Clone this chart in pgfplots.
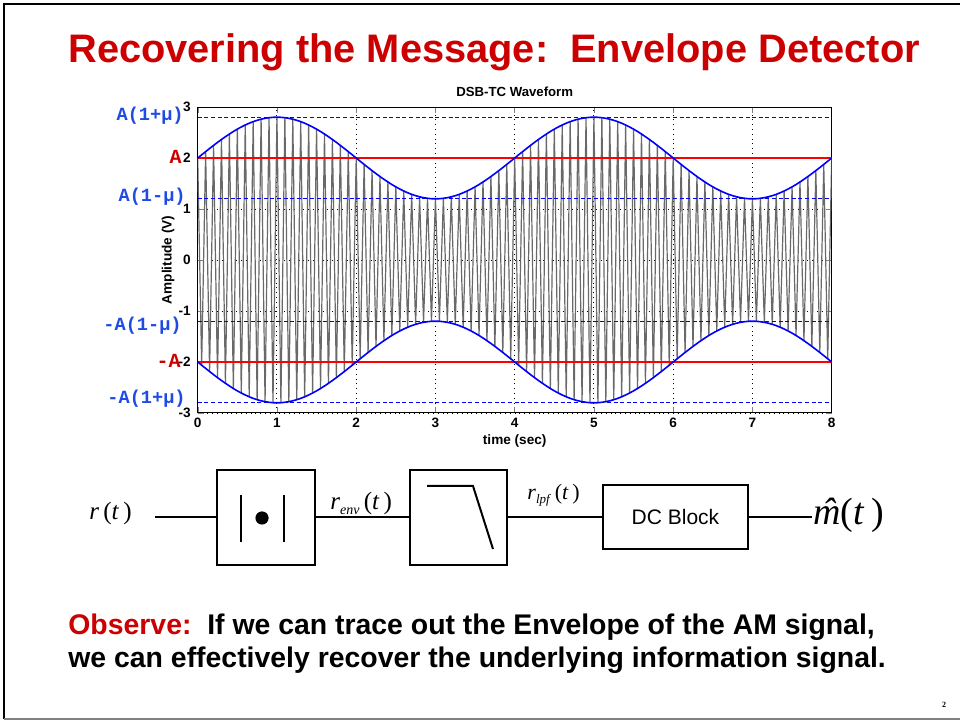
\documentclass[border=0pt]{standalone}
\usepackage{fontspec}
\setmainfont{Liberation Sans}
\newfontfamily\serif{Liberation Serif}
\newfontfamily\mono{Liberation Mono}
\usepackage{pgfplots}
\pgfplotsset{compat=1.18}
\usepackage{pgfplotstable}
\definecolor{titlered}{RGB}{204,0,0}
\definecolor{lblblue}{RGB}{30,75,230}
\definecolor{carrier}{RGB}{105,105,105}

\pgfplotstableread{
t v e
0.00 2.000 2.000
0.05 -2.063 2.063
0.10 2.125 2.125
0.15 -2.187 2.187
0.20 2.247 2.247
0.25 -2.306 2.306
0.30 2.363 2.363
0.35 -2.418 2.418
0.40 2.470 2.470
0.45 -2.520 2.520
0.50 2.566 2.566
0.55 -2.608 2.608
0.60 2.647 2.647
0.65 -2.682 2.682
0.70 2.713 2.713
0.75 -2.739 2.739
0.80 2.761 2.761
0.85 -2.778 2.778
0.90 2.790 2.790
0.95 -2.798 2.798
1.00 2.800 2.800
1.05 -2.798 2.798
1.10 2.790 2.790
1.15 -2.778 2.778
1.20 2.761 2.761
1.25 -2.739 2.739
1.30 2.713 2.713
1.35 -2.682 2.682
1.40 2.647 2.647
1.45 -2.608 2.608
1.50 2.566 2.566
1.55 -2.520 2.520
1.60 2.470 2.470
1.65 -2.418 2.418
1.70 2.363 2.363
1.75 -2.306 2.306
1.80 2.247 2.247
1.85 -2.187 2.187
1.90 2.125 2.125
1.95 -2.063 2.063
2.00 2.000 2.000
2.05 -1.937 1.937
2.10 1.875 1.875
2.15 -1.813 1.813
2.20 1.753 1.753
2.25 -1.694 1.694
2.30 1.637 1.637
2.35 -1.582 1.582
2.40 1.530 1.530
2.45 -1.480 1.480
2.50 1.434 1.434
2.55 -1.392 1.392
2.60 1.353 1.353
2.65 -1.318 1.318
2.70 1.287 1.287
2.75 -1.261 1.261
2.80 1.239 1.239
2.85 -1.222 1.222
2.90 1.210 1.210
2.95 -1.202 1.202
3.00 1.200 1.200
3.05 -1.202 1.202
3.10 1.210 1.210
3.15 -1.222 1.222
3.20 1.239 1.239
3.25 -1.261 1.261
3.30 1.287 1.287
3.35 -1.318 1.318
3.40 1.353 1.353
3.45 -1.392 1.392
3.50 1.434 1.434
3.55 -1.480 1.480
3.60 1.530 1.530
3.65 -1.582 1.582
3.70 1.637 1.637
3.75 -1.694 1.694
3.80 1.753 1.753
3.85 -1.813 1.813
3.90 1.875 1.875
3.95 -1.937 1.937
4.00 2.000 2.000
4.05 -2.063 2.063
4.10 2.125 2.125
4.15 -2.187 2.187
4.20 2.247 2.247
4.25 -2.306 2.306
4.30 2.363 2.363
4.35 -2.418 2.418
4.40 2.470 2.470
4.45 -2.520 2.520
4.50 2.566 2.566
4.55 -2.608 2.608
4.60 2.647 2.647
4.65 -2.682 2.682
4.70 2.713 2.713
4.75 -2.739 2.739
4.80 2.761 2.761
4.85 -2.778 2.778
4.90 2.790 2.790
4.95 -2.798 2.798
5.00 2.800 2.800
5.05 -2.798 2.798
5.10 2.790 2.790
5.15 -2.778 2.778
5.20 2.761 2.761
5.25 -2.739 2.739
5.30 2.713 2.713
5.35 -2.682 2.682
5.40 2.647 2.647
5.45 -2.608 2.608
5.50 2.566 2.566
5.55 -2.520 2.520
5.60 2.470 2.470
5.65 -2.418 2.418
5.70 2.363 2.363
5.75 -2.306 2.306
5.80 2.247 2.247
5.85 -2.187 2.187
5.90 2.125 2.125
5.95 -2.063 2.063
6.00 2.000 2.000
6.05 -1.937 1.937
6.10 1.875 1.875
6.15 -1.813 1.813
6.20 1.753 1.753
6.25 -1.694 1.694
6.30 1.637 1.637
6.35 -1.582 1.582
6.40 1.530 1.530
6.45 -1.480 1.480
6.50 1.434 1.434
6.55 -1.392 1.392
6.60 1.353 1.353
6.65 -1.318 1.318
6.70 1.287 1.287
6.75 -1.261 1.261
6.80 1.239 1.239
6.85 -1.222 1.222
6.90 1.210 1.210
6.95 -1.202 1.202
7.00 1.200 1.200
7.05 -1.202 1.202
7.10 1.210 1.210
7.15 -1.222 1.222
7.20 1.239 1.239
7.25 -1.261 1.261
7.30 1.287 1.287
7.35 -1.318 1.318
7.40 1.353 1.353
7.45 -1.392 1.392
7.50 1.434 1.434
7.55 -1.480 1.480
7.60 1.530 1.530
7.65 -1.582 1.582
7.70 1.637 1.637
7.75 -1.694 1.694
7.80 1.753 1.753
7.85 -1.813 1.813
7.90 1.875 1.875
7.95 -1.937 1.937
8.00 2.000 2.000
}\wave

\begin{document}
\begin{tikzpicture}
\useasboundingbox (0,0) rectangle (480pt,-360.5pt);
\fill[white] (0,0) rectangle (480pt,-360.5pt);
\begin{axis}[
  at={(98.85pt,-206.5pt)}, anchor=south west,
  scale only axis, width=317pt, height=153pt,
  xmin=0, xmax=8, ymin=-3, ymax=3,
  xtick={0,1,2,3,4,5,6,7,8}, ytick={-3,-2,-1,0,1,2,3},
  grid=major, major grid style={black, dotted, line width=0.45pt},
  tick align=inside, major tick length=3pt,
  axis line style={black, line width=0.5pt},
  /pgf/number format/assume math mode=true,
  ticklabel style={font=\bfseries\fontsize{6.8}{7}\selectfont},
  xticklabel style={yshift=1pt},
  every axis title shift=0pt,
  title={DSB-TC Waveform},
  title style={at={(axis description cs:0.5,1)}, anchor=base, yshift=5.2pt, inner sep=0pt, font=\bfseries\fontsize{6.6}{7}\selectfont},
  xlabel={time (sec)},
  xlabel style={at={(axis description cs:0.5,0)}, anchor=base, yshift=-16pt, inner sep=0pt, font=\bfseries\fontsize{6.8}{7}\selectfont},
  ylabel={Amplitude (V)},
  ylabel style={at={(axis description cs:-0.0468,0.5)}, anchor=center, inner sep=0pt, font=\bfseries\fontsize{6.8}{7}\selectfont},
]
\addplot[carrier, line width=0.6pt, line join=round] table[x=t,y=v]{\wave};
\addplot[blue, line width=0.6pt, dash pattern=on 2pt off 1.3pt] coordinates {(0,2.8) (8,2.8)};
\addplot[blue, line width=0.6pt, dash pattern=on 2pt off 1.3pt] coordinates {(0,1.2) (8,1.2)};
\addplot[blue, line width=0.6pt, dash pattern=on 2pt off 1.3pt] coordinates {(0,-1.2) (8,-1.2)};
\addplot[blue, line width=0.6pt, dash pattern=on 2pt off 1.3pt] coordinates {(0,-2.8) (8,-2.8)};
\addplot[red, line width=1.4pt] coordinates {(0,2) (8,2)};
\addplot[red, line width=1.4pt] coordinates {(0,-2) (8,-2)};
\addplot[blue, line width=0.8pt] table[x=t,y=e]{\wave};
\addplot[blue, line width=0.8pt] table[x=t,y expr=-\thisrow{e}]{\wave};
\end{axis}
\begin{scope}[x=0.5pt,y=-0.5pt]
  % frame
  \draw[black, line width=1.3pt] (4,719) -- (4,4) -- (960,4);
  \draw[gray, line width=1pt] (4,719) -- (960,719);
  % title
  \node[anchor=base west, inner sep=0, text=titlered, font=\bfseries\fontsize{19.9}{24}\selectfont] at (68,63) {Recovering the Message:\ \ Envelope Detector};
  % axis annotations
  \begin{scope}[every node/.style={inner sep=0, font=\mono\bfseries\fontsize{9.3}{10}\selectfont}]
    \node[anchor=east, text=lblblue] at (184,116) {A(1+μ)};
    \node[anchor=east, text=lblblue] at (186,197) {A(1-μ)};
    \node[anchor=east, text=lblblue] at (182,326) {-A(1-μ)};
    \node[anchor=east, text=lblblue] at (186,399) {-A(1+μ)};
    \node[anchor=east, text=titlered, font=\mono\bfseries\fontsize{10}{10}\selectfont] at (182,157) {A};
    \node[anchor=east, text=titlered, font=\mono\bfseries\fontsize{10}{10}\selectfont] at (181,361) {-A};
  \end{scope}
  % block diagram
  \draw[line width=0.8pt] (155,517) -- (217,517);
  \draw[line width=0.8pt] (315,517) -- (410,517);
  \draw[line width=0.8pt] (507,517) -- (603,517);
  \draw[line width=0.8pt] (748,517) -- (812,517);
  \draw[line width=1pt] (217,470) rectangle (315,565);
  \draw[line width=1pt] (410,470) rectangle (507,565);
  \draw[line width=1pt] (603,485) rectangle (748,549);
  \draw[line width=1pt] (241,495) -- (241,542);
  \draw[line width=1pt] (284,495) -- (284,542);
  \fill (262,518) circle (3.3pt);
  \draw[line width=1pt] (427,486) -- (473,486) -- (493,549);
  \node[inner sep=0, font=\fontsize{10.5}{12}\selectfont] at (675.5,517) {DC Block};
  \node[anchor=base west, inner sep=0, font=\serif\fontsize{12.5}{14}\selectfont] at (89,520) {\textit{r}\,(\textit{t}\,)};
  \node[anchor=base west, inner sep=0, font=\serif\fontsize{12.5}{14}\selectfont] at (330,510) {\textit{r}\raisebox{-0.35ex}{\fontsize{7}{8}\selectfont\textit{env}}\,(\textit{t}\,)};
  \node[anchor=base west, inner sep=0, font=\serif\fontsize{11}{13}\selectfont] at (527,500) {\textit{r}\raisebox{-0.35ex}{\fontsize{6.5}{8}\selectfont\textit{lpf}}\,(\textit{t}\,)};
  \node[anchor=base west, inner sep=0, font=\serif\fontsize{19}{22}\selectfont] at (813,525) {\textit{m\llap{ˆ\hspace{0.16em}}}(\textit{t}\,)};
  % bottom text
  \node[anchor=base west, inner sep=0, font=\bfseries\fontsize{14.2}{17}\selectfont] at (68,635) {\textcolor{titlered}{Observe:}\ \ If we can trace out the Envelope of the AM signal,};
  \node[anchor=base west, inner sep=0, font=\bfseries\fontsize{14.2}{17}\selectfont] at (68,668) {we can effectively recover the underlying information signal.};
  \node[inner sep=0, font=\serif\bfseries\fontsize{4}{5}\selectfont] at (944,705) {2};
\end{scope}
\end{tikzpicture}
\end{document}
